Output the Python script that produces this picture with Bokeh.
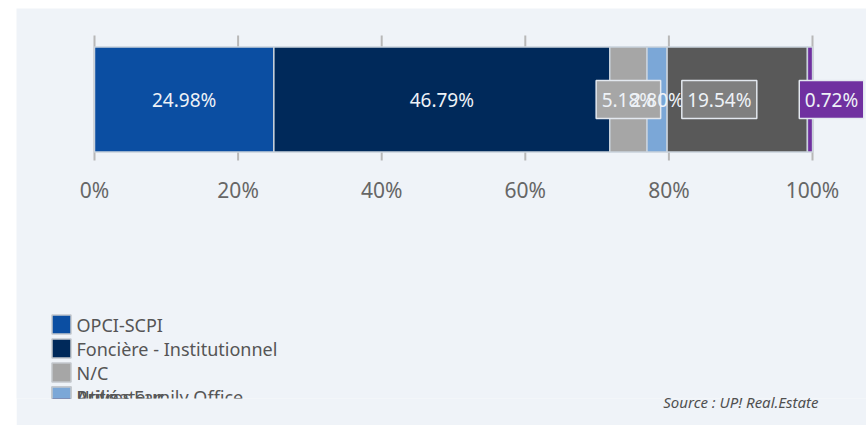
from bokeh.plotting import figure
from bokeh.models import Range1d, LinearAxis, FixedTicker, Title, Spacer
from bokeh.layouts import row, column
from bokeh.core.properties import value
from bokeh.embed import file_html
from bokeh.resources import INLINE

# ---- data ----
categories = ["OPCI-SCPI", "Foncière - Institutionnel", "N/C", "Utilisateur",
              "Privé - Family Office", "Autres"]
shares = [24.98, 46.79, 5.18, 2.80, 19.54, 0.72]
colors = ["#0b4ea2", "#00295a", "#a6a6a6", "#7ba7d7", "#595959", "#7030a0"]
tick_values = [0, 20, 40, 60, 80, 100]
tick_labels = ["0%", "20%", "40%", "60%", "80%", "100%"]
source_text = "Source : UP! Real.Estate"

# label styling (boxes and small shifts to avoid overlaps, in x units)
label_box = [False, False, True, False, True, True]
box_fill = [None, None, "#a6a6a6", None, "#7f7f7f", "#7030a0"]
label_shift = [0, 0, 0, 0, -2.5, 3.0]

# ---- layout constants (canvas pixels) ----
W, H = 850, 417
FRAME_H = 390
X0_PX, X100_PX = 78, 796
scale = (X100_PX - X0_PX) / 100.0
x_start = -X0_PX / scale
x_end = x_start + W / scale


def px2x(px):
    return x_start + px / scale


BG = "#eff3f8"
FONT = "Noto Sans"

p = figure(width=W, height=H, output_backend="svg", toolbar_location=None,
           x_range=Range1d(x_start, x_end), y_range=Range1d(FRAME_H, 0),
           min_border_left=0, min_border_right=0, min_border_top=0,
           min_border_bottom=H - FRAME_H, x_axis_type=None, y_axis_type=None,
           background_fill_color=BG, border_fill_color=BG, outline_line_color=None)
p.grid.visible = False

BAR_Y, BAR_H = 91, 105

# vertical grid marks
p.segment(x0=tick_values, x1=tick_values, y0=[27] * len(tick_values),
          y1=[152] * len(tick_values), line_color="#b8b8b8", line_width=2)

# stacked bar
lefts, rights = [], []
acc = 0.0
for s in shares:
    lefts.append(acc)
    acc += s
    rights.append(acc)
p.hbar(y=[BAR_Y] * len(shares), height=BAR_H, left=lefts, right=rights,
       fill_color=colors, line_color="#c9d2dc", line_width=1.5)

# value labels
for i, s in enumerate(shares):
    cx = (lefts[i] + rights[i]) / 2 + label_shift[i]
    txt = f"{s:.2f}%"
    if label_box[i]:
        p.rect(x=[cx], y=[BAR_Y], width=10.5 * len(txt) + 12, width_units="screen",
               height=38, fill_color=box_fill[i], line_color="#e3e8ef", line_width=1.5)
    p.text(x=[cx], y=[BAR_Y], text=[txt], text_align="center", text_baseline="middle",
           text_font=value(FONT), text_font_size="19px", text_color="#eef2f7")

# x axis (tick labels only)
ax = LinearAxis(fixed_location=152, ticker=FixedTicker(ticks=tick_values),
                major_label_overrides={v: l for v, l in zip(tick_values, tick_labels)},
                axis_line_color=None, major_tick_line_color=None,
                minor_tick_line_color=None, major_label_standoff=9,
                major_label_text_font=FONT, major_label_text_font_size="21px",
                major_label_text_color="#666666")
p.add_layout(ax, "below")

# legend (drawn manually, clipped by the frame like the original)
ROW0, ROW_DY = 316, 24
for i in reversed(range(len(categories))):
    row_i = min(i, 3)
    yy = ROW0 + row_i * ROW_DY
    p.rect(x=[px2x(45)], y=[yy], width=19, width_units="screen", height=19,
           fill_color=colors[i], line_color="#c4c8cd", line_width=1.5)
    p.text(x=[px2x(60)], y=[yy], text=[categories[i]], text_align="left",
           text_baseline="middle", text_font=value(FONT), text_font_size="18px",
           text_color="#555555")

p.add_layout(Title(text=source_text, align="right", offset=48, standoff=-27,
                   text_font=FONT, text_font_size="15px", text_font_style="italic",
                   text_color="#505050"), "below")

layout = column(Spacer(height=8), row(Spacer(width=16), p, spacing=0), spacing=0)
open("out.html", "w").write(file_html(layout, INLINE))
